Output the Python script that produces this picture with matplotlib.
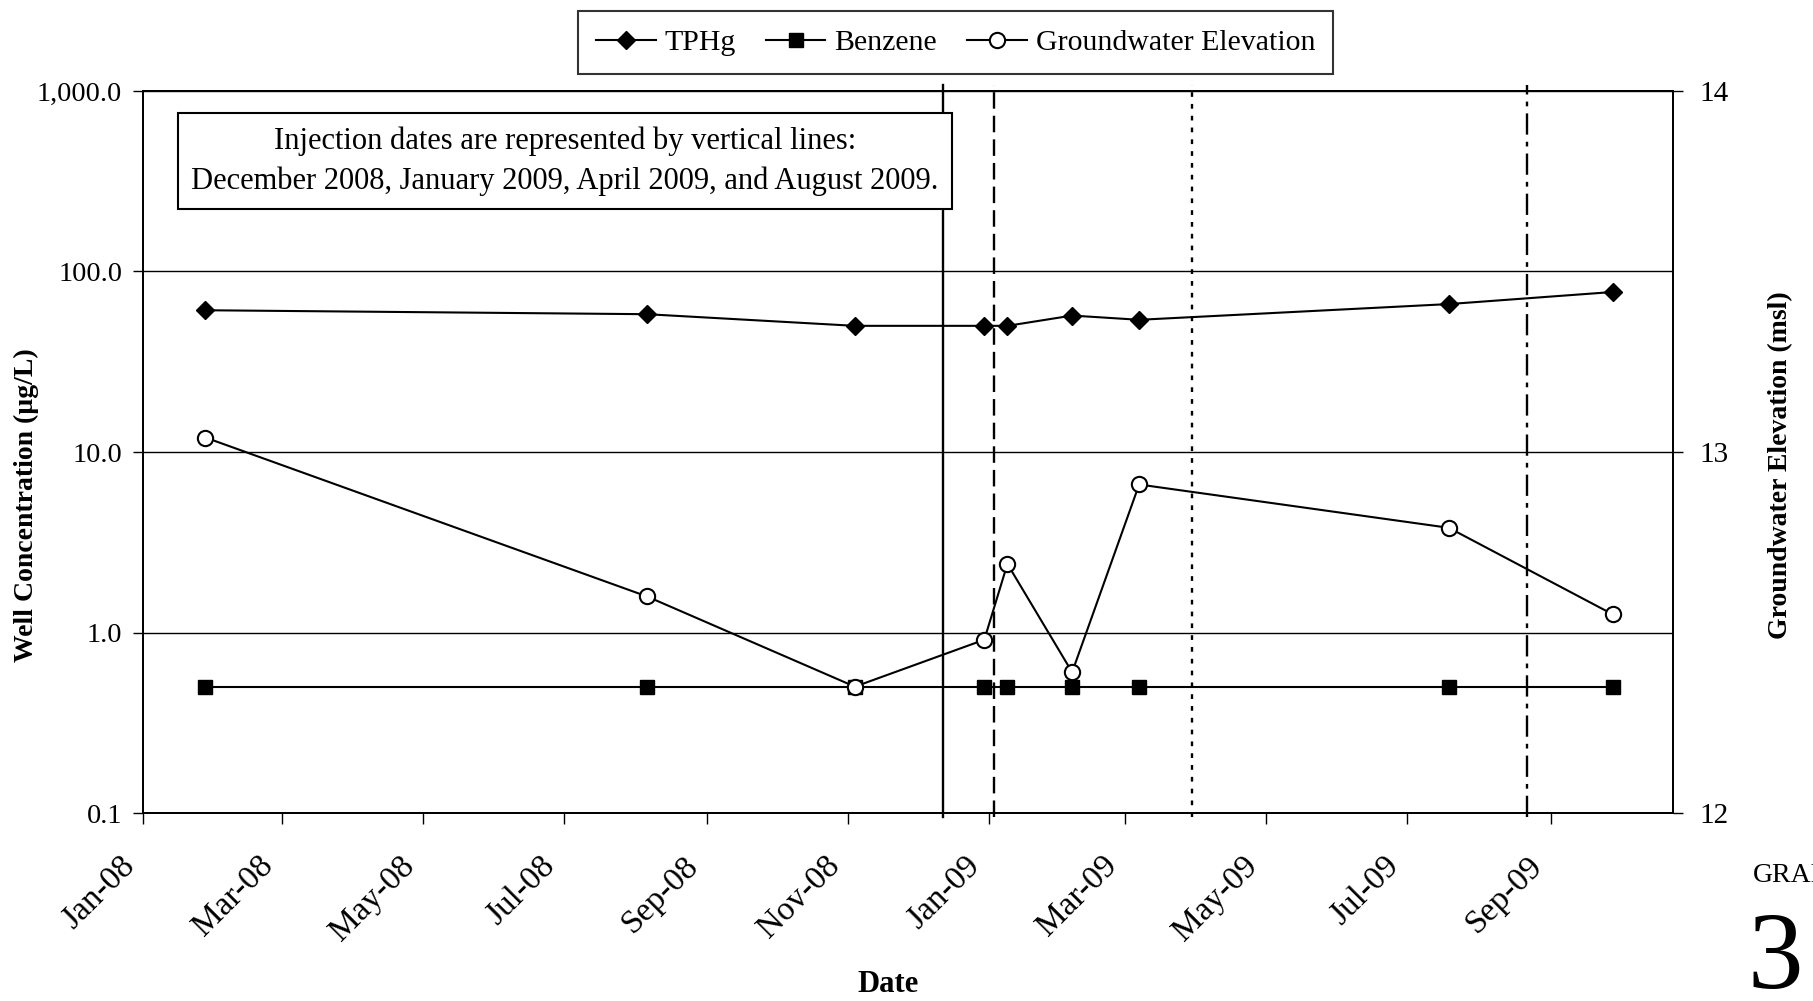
import matplotlib
matplotlib.use("Agg")
import matplotlib.pyplot as plt
import matplotlib.dates as mdates
import matplotlib.ticker as mticker
import matplotlib.transforms as mtransforms
import numpy as np
import pandas as pd

plt.rcParams['font.family'] = ['Liberation Serif', 'DejaVu Serif']

# monitoring well results
sample_dates = pd.to_datetime(['2008-01-28', '2008-08-06', '2008-11-04', '2008-12-30',
                               '2009-01-09', '2009-02-06', '2009-03-07', '2009-07-19',
                               '2009-09-28'])
tphg = [61, 58, 50, 50, 50, 57, 54, 66, 77]
benzene = [0.5, 0.5, 0.5, 0.5, 0.5, 0.5, 0.5, 0.5, 0.5]
gw_elev = [13.04, 12.60, 12.35, 12.48, 12.69, 12.39, 12.91, 12.79, 12.55]

# injection events
inj_dates = pd.to_datetime(['2008-12-12', '2009-01-03', '2009-03-30', '2009-08-22'])
inj_styles = ['-', (0, (7, 3)), (0, (2, 3)), (0, (9, 3, 2, 3))]

conc_ticks = [0.1, 1.0, 10.0, 100.0, 1000.0]
conc_labels = ['0.1', '1.0', '10.0', '100.0', '1,000.0']
elev_ticks = [12, 13, 14]

fig = plt.figure(figsize=(18.13, 10.01), dpi=100)
ax = fig.add_axes([0.0789, 0.1878, 0.8439, 0.7213])

ax.set_yscale('log')
ax.set_ylim(0.1, 1000)
ax.set_xlim(pd.Timestamp('2008-01-01'), pd.Timestamp('2009-10-24'))
ax.yaxis.set_major_locator(mticker.FixedLocator(conc_ticks))
ax.yaxis.set_minor_locator(mticker.NullLocator())
ax.set_yticklabels(conc_labels)
ax.xaxis.set_major_locator(mdates.MonthLocator(bymonth=[1, 3, 5, 7, 9, 11]))
ax.xaxis.set_major_formatter(mdates.DateFormatter('%b-%y'))
ax.grid(axis='y', color='black', lw=1.0)
ax.set_axisbelow(True)

for d, ls in zip(inj_dates, inj_styles):
    ax.axvline(d, ymin=-0.006, ymax=1.008, color='black', lw=1.7, ls=ls, clip_on=False)

l1, = ax.plot(sample_dates, tphg, color='black', lw=1.5, marker='D', ms=9.5,
              mfc='black', label='TPHg')
l2, = ax.plot(sample_dates, benzene, color='black', lw=1.5, marker='s', ms=10,
              mfc='black', label='Benzene')

ax2 = ax.twinx()
ax2.set_ylim(12, 14)
ax2.set_yticks(elev_ticks)
l3, = ax2.plot(sample_dates, gw_elev, color='black', lw=1.5, marker='o', ms=11,
               mfc='white', mew=1.5, label='Groundwater Elevation')

for a in (ax, ax2):
    for s in a.spines.values():
        s.set_linewidth(1.3)
        s.set_color('black')
ax.tick_params(axis='y', which='major', length=7, width=1, labelsize=20.5, pad=8)
ax.tick_params(axis='x', which='major', length=8, width=1, labelsize=24, pad=19)
ax2.tick_params(axis='y', length=7, width=1, labelsize=21, pad=12)

# slanted date labels, nudged left so their ends sit by the ticks
shift = mtransforms.ScaledTranslation(-0.24, 0, fig.dpi_scale_trans)
for lbl in ax.get_xticklabels():
    lbl.set_rotation(45)
    lbl.set_ha('right')
    lbl.set_va('top')
    lbl.set_rotation_mode('anchor')
    lbl.set_transform(lbl.get_transform() + shift)

ax.set_ylabel('Well Concentration (µg/L)', fontsize=20, fontweight='bold')
ax.yaxis.set_label_coords(-0.068, 0.426)
ax2.set_ylabel('Groundwater Elevation (msl)', fontsize=20, fontweight='bold')
ax2.yaxis.set_label_coords(1.062, 0.482)
fig.text(0.49, 0.016, 'Date', fontsize=22, fontweight='bold', ha='center', va='center')

ax.text(0.2758, 0.903,
        'Injection dates are represented by vertical lines:\n'
        'December 2008, January 2009, April 2009, and August 2009.',
        transform=ax.transAxes, ha='center', va='center', fontsize=22,
        linespacing=1.45,
        bbox=dict(boxstyle='square,pad=0.45', fc='white', ec='black', lw=1.5))

leg = fig.legend(handles=[l1, l2, l3], loc='center', bbox_to_anchor=(0.527, 0.9575),
                 ncol=3, fontsize=21.5, frameon=True, fancybox=False, edgecolor='black',
                 handlelength=2.0, handletextpad=0.3, columnspacing=1.0,
                 borderpad=0.6)
leg.get_frame().set_linewidth(1.5)

fig.text(0.967, 0.125, 'GRAPH', fontsize=20, ha='left', va='center')
fig.text(0.964, 0.013, '3', fontsize=80, ha='left', va='baseline')

fig.savefig('out.png', dpi=100)
